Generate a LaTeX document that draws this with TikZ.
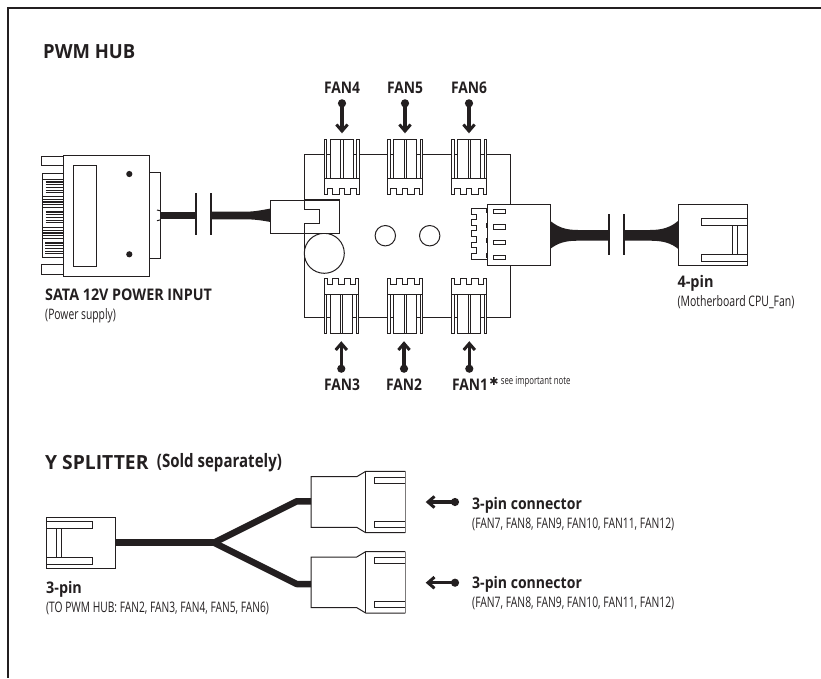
\documentclass[tikz,border=0pt]{standalone}
\usepackage{fontspec}
\usepackage{graphicx}
\setmainfont{Open Sans}
\newfontfamily\symfont{DejaVu Sans}
\definecolor{ink}{HTML}{231F20}
\newcommand{\wtext}[4]{\resizebox{#1pt}{\height}{\fontsize{#2}{#2}\selectfont\ifnum#3=1\bfseries\fi\rule[-.3em]{0pt}{1.31em}#4}}
\tikzset{
  outline/.style={draw=ink,line width=1pt,fill=white},
  wire/.style={draw=ink,line width=1pt},
  blackfill/.style={fill=ink,draw=none},
  label/.style={inner sep=0pt,anchor=west,text=ink},
  breakbar/.style={draw=ink,line width=2.2pt},
  pointer/.style={draw=ink,line width=3.2pt},
  tiparrow/.style={draw=ink,line width=3pt,line join=miter},
  cable/.style={draw=ink,line width=6.5pt,line join=round},
  pinline/.style={draw=ink,line width=1.2pt}
}
\newcommand{\fanheader}[3]{%
  \begin{scope}[shift={(#1,#2)},yscale=#3]
    \fill[white] (-17.3,39.3) rectangle (17.3,55);
    \draw[outline] (-17.3,0) rectangle (-15,39.3);
    \draw[outline] (15,0) rectangle (17.3,39.3);
    \draw[outline] (-11.3,0) rectangle (11.3,39.3);
    \draw[wire,fill=white] (-1,0) rectangle (1.6,39.3);
    \draw[wire] (-17.3,39.3) -- (17.3,39.3);
    \draw[wire] (-17.3,39.3) -- (-17.3,55) -- (-14.3,55) -- (-14.3,49.3) -- (-9,49.3) -- (-9,55)
      -- (-2.7,55) -- (-2.7,49.3) -- (2.7,49.3) -- (2.7,55) -- (9,55) -- (9,49.3) -- (14.3,49.3)
      -- (14.3,55) -- (17.3,55) -- (17.3,39.3);
  \end{scope}}
\newcommand{\threepin}[1]{%
  \begin{scope}[yshift=#1]
    \draw[outline] (405.3,471.3) -- (365.7,471.3) -- (356.7,476.7) -- (311,476.7) -- (311,527.3)
      -- (356.7,527.3) -- (365.7,532.7) -- (405.3,532.7);
    \draw[wire] (365.7,471.3) -- (365.7,532.7);
    \draw[wire,draw=ink!60] (405.3,471.3) -- (405.3,532.7);
    \draw[wire] (405.3,477.3) -- (374.3,477.3) -- (374.3,483.3) -- (405.3,483.3);
    \draw[wire] (405.3,521.3) -- (374.3,521.3) -- (374.3,527.3) -- (405.3,527.3);
  \end{scope}}
\begin{document}
\begin{tikzpicture}[x=1pt,y=-1pt]
\useasboundingbox (0,0) rectangle (821,678);
% frame
\coordinate (frameTR) at (821,8);
\coordinate (frameTL) at (8,8);
\coordinate (frameBL) at (8,678);
\draw[wire,line width=1.1pt] (frameTR) -- (frameTL) -- (frameBL);

\node[label] (titlehub) at (43,52) {\wtext{92}{19.5}{1}{PWM HUB}};

% SATA connector
\draw[outline] (41.7,156) rectangle (63.3,165.3);
\draw[outline] (41.7,264.7) rectangle (63.3,274);
\draw[outline] (42.3,173.3) rectangle (63.3,257.7);
\draw[wire] (42.3,179) -- (63.3,179);
\foreach \xs/\ya in {45.7/182,43.3/196.5,45.7/212,43.3/227.5,45/243}{
  \foreach \i in {0,...,4}{ \draw[pinline] (\xs,\ya+\i*2.7) -- (63.3,\ya+\i*2.7); }
}
\draw[outline] (149.3,172.7) rectangle (160.3,258.7);
\draw[outline] (63.3,155.3) rectangle (149.3,276);
\draw[outline] (73.3,165) rectangle (96,266);
\fill[ink] (129.3,174) circle (3.1);
\fill[ink] (129.3,254.3) circle (3.1);
\draw[wire] (157,210) -- (160.3,210.8);
\draw[wire] (157,220.7) -- (160.3,219.9);

% hub board
\draw[wire,line width=1pt] (304.3,154) rectangle (510.7,317.7);
\draw[wire] (324.3,253.3) circle (20);
\draw[wire] (385.3,235.7) circle (10.2);
\draw[wire] (429.7,235.7) circle (10.2);

% fan headers
\fanheader{341.7}{139}{1}
\fanheader{405}{139}{1}
\fanheader{469}{139}{1}
\fanheader{341.3}{333.3}{-1}
\fanheader{405}{333.3}{-1}
\fanheader{469}{333.3}{-1}

% SATA cable
\path[blackfill] (160.3,211.7) rectangle (196,219.3);
\path[blackfill] (210.7,211.7) -- (245,211.7) .. controls (255,211.7) and (262,210) .. (270.7,208.5)
  -- (270.7,222) .. controls (262,220.5) and (255,219.3) .. (245,219.3) -- (210.7,219.3) -- cycle;
\draw[breakbar] (196,193) -- (196,235);
\draw[breakbar] (210.7,193) -- (210.7,235);

% power plug on board
\draw[outline] (270.7,200) rectangle (339.3,233.3);
\draw[wire] (304.3,209.3) -- (319.3,209.3) -- (319.3,223.3) -- (304.3,223.3);
\draw[wire] (304.3,200) -- (304.3,209.3);
\draw[wire] (304.3,223.3) -- (304.3,233.3);
\draw[wire,line width=1.6pt] (304.3,200) -- (339.3,200) -- (339.3,233.3) -- (304.3,233.3);

% 4-pin socket on board
\draw[outline] (487.3,208.3) -- (471.7,208.3) -- (471.7,214) -- (476.7,214) -- (476.7,219.5) -- (471.7,219.5)
  -- (471.7,225.2) -- (476.7,225.2) -- (476.7,230.8) -- (471.7,230.8) -- (471.7,236.5) -- (476.7,236.5)
  -- (476.7,242) -- (471.7,242) -- (471.7,247.7) -- (476.7,247.7) -- (476.7,253.3) -- (471.7,253.3)
  -- (471.7,259) -- (487.3,259);
\draw[outline] (487.3,204.3) rectangle (550,265);
\draw[draw=ink,line width=1.6pt,dash pattern=on 5pt off 10pt] (487,208) -- (487,260);
\foreach \yy in {211.7,227,242.3,257.7}{
  \draw[wire] (493.3,\yy-2.2) rectangle (505.7,\yy+2.2);
}

% right cable
\path[blackfill] (550,220.7) .. controls (558,227) and (565,230) .. (578,230) -- (609,230) -- (609,240.7)
  -- (578,240.7) .. controls (565,240.7) and (558,243) .. (550,249) -- cycle;
\path[blackfill] (623.7,230) -- (650,230) .. controls (663,230) and (671,227) .. (678.3,220.7)
  -- (678.3,249) .. controls (671,243) and (663,240.7) .. (650,240.7) -- (623.7,240.7) -- cycle;
\draw[breakbar] (609,214) -- (609,255.3);
\draw[breakbar] (623.7,214) -- (623.7,255.3);

% 4-pin plug
\draw[outline] (678.3,204.3) rectangle (747.3,265);
\draw[wire] (747.3,218.7) -- (701.7,218.7) -- (701.7,225.3) -- (747.3,225.3);
\draw[wire] (747.3,254.3) -- (701.7,254.3) -- (701.7,261.3) -- (747.3,261.3);
\draw[wire] (732.3,225.3) rectangle (737.7,254.3);

% fan arrows and labels
\foreach \nm/\cx in {FAN4/342,FAN5/405,FAN6/469}{
  \coordinate (dot\nm) at (\cx,103.3);
  \coordinate (tip\nm) at (\cx,131);
  \coordinate (sh\nm) at (\cx,129);
  \fill[ink] (dot\nm) circle (4.1);
  \draw[pointer] (dot\nm) -- (sh\nm);
  \draw[tiparrow] ([xshift=-5.6pt,yshift=6.5pt]tip\nm) -- (tip\nm) -- ([xshift=5.6pt,yshift=6.5pt]tip\nm);
  \node[inner sep=0pt,text=ink] (lbl\nm) at (\cx,87.7) {\wtext{36}{16}{1}{\nm}};
}
\foreach \nm/\cx/\lx in {FAN3/341.3/342,FAN2/404/404,FAN1/469.3/470}{
  \coordinate (dot\nm) at (\cx,368.7);
  \coordinate (tip\nm) at (\cx,343.5);
  \coordinate (sh\nm) at (\cx,345.5);
  \fill[ink] (dot\nm) circle (4.1);
  \draw[pointer] (dot\nm) -- (sh\nm);
  \draw[tiparrow] ([xshift=-5.6pt,yshift=-6.5pt]tip\nm) -- (tip\nm) -- ([xshift=5.6pt,yshift=-6.5pt]tip\nm);
  \node[inner sep=0pt,text=ink] (lbl\nm) at (\lx,385) {\wtext{36}{16}{1}{\nm}};
}
\node[inner sep=0pt,text=ink] (star) at (494,381) {\fontsize{11}{11}\symfont ✱};
\node[label] (note) at (500.7,381) {\wtext{69.5}{11}{0}{see important note}};

\node[label] (satatext) at (45,295) {\wtext{166.7}{16}{1}{SATA 12V POWER INPUT}};
\node[label] (satasub) at (45,314.3) {\wtext{70.7}{14.5}{0}{(Power supply)}};
\node[label] (pintext) at (677.3,281.7) {\wtext{36}{16}{1}{4-pin}};
\node[label] (pinsub) at (677.3,301) {\wtext{117}{14.5}{0}{(Motherboard CPU\_Fan)}};

% Y splitter
\node[label] (titley) at (45,462.7) {\wtext{103.3}{19.5}{1}{Y SPLITTER}};
\node[label] (titles) at (156.7,461) {\wtext{125}{18.5}{1}{(Sold separately)}};

\draw[outline] (46,517.3) rectangle (115.7,568);
\draw[wire] (46,521.3) -- (92,521.3) -- (92,528.7) -- (46,528.7);
\draw[wire] (46,557.3) -- (92,557.3) -- (92,564.3) -- (46,564.3);
\draw[wire] (56.7,528.7) rectangle (61.3,557.3);

\threepin{0pt}
\threepin{-80.3pt}

\coordinate (yin) at (115.7,542.7);
\coordinate (fork) at (214,542.7);
\coordinate (ubend) at (296.7,501.3);
\coordinate (uend) at (311,501.3);
\coordinate (lbend) at (296.7,584);
\coordinate (lend) at (311,584);
\draw[cable,line width=7pt] (yin) -- (fork);
\draw[cable] (fork) -- (ubend) -- (uend);
\draw[cable] (fork) -- (lbend) -- (lend);

\foreach \nm/\yy in {A/502,B/582.7}{
  \coordinate (dot\nm) at (455,\yy);
  \coordinate (tip\nm) at (428,\yy);
  \coordinate (sh\nm) at (430,\yy);
  \fill[ink] (dot\nm) circle (4.1);
  \draw[pointer] (dot\nm) -- (sh\nm);
  \draw[tiparrow] ([xshift=6.5pt,yshift=-5.6pt]tip\nm) -- (tip\nm) -- ([xshift=6.5pt,yshift=5.6pt]tip\nm);
}
\node[label] (c1) at (472,504) {\wtext{109.7}{16}{1}{3-pin connector}};
\node[label] (c1s) at (472,523) {\wtext{202}{14.5}{0}{(FAN7, FAN8, FAN9, FAN10, FAN11, FAN12)}};
\node[label] (c2) at (472,583.3) {\wtext{109.7}{16}{1}{3-pin connector}};
\node[label] (c2s) at (472,602.3) {\wtext{202}{14.5}{0}{(FAN7, FAN8, FAN9, FAN10, FAN11, FAN12)}};
\node[label] (p3) at (46,588.3) {\wtext{35.7}{16}{1}{3-pin}};
\node[label] (p3s) at (46,607.7) {\wtext{222.7}{14.5}{0}{(TO PWM HUB: FAN2, FAN3, FAN4, FAN5, FAN6)}};
\end{tikzpicture}
\end{document}
